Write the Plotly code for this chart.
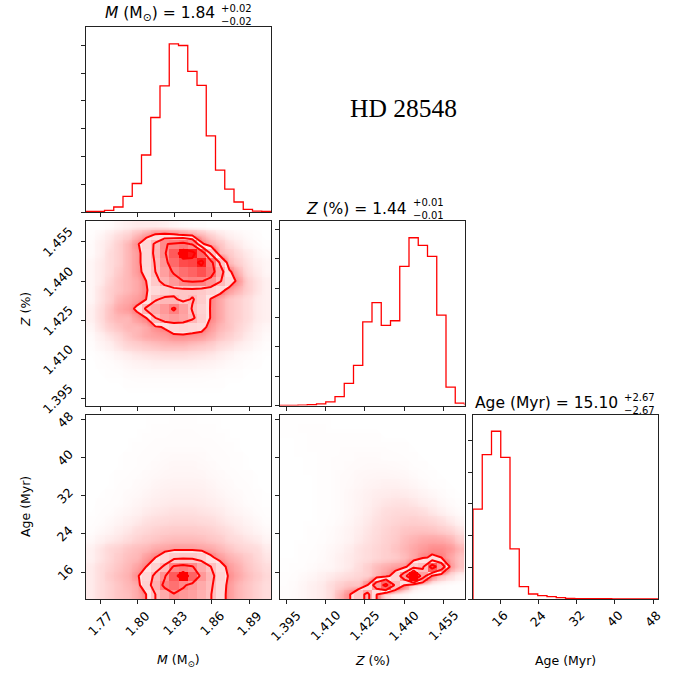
import plotly.graph_objects as go

# ---------------- parameters ----------------
mass_range = [1.7587, 1.9077]
z_range = [1.3924, 1.4630]
age_range = [10.36, 48.98]

mass_ticks = [1.77, 1.80, 1.83, 1.86, 1.89]
mass_tick_text = ["1.77", "1.80", "1.83", "1.86", "1.89"]
z_ticks = [1.395, 1.410, 1.425, 1.440, 1.455]
z_tick_text = ["1.395", "1.410", "1.425", "1.440", "1.455"]
age_ticks = [16, 24, 32, 40, 48]
age_tick_text = ["16", "24", "32", "40", "48"]

# marginal histograms, 20 bins each
mass_counts = [5, 5, 12, 36, 113, 205, 410, 680, 908, 1210,
               1198, 1012, 911, 547, 301, 164, 72, 19, 7, 5]
z_counts = [0, 0, 2, 5, 11, 25, 61, 150, 273, 570,
            701, 545, 577, 947, 1142, 1090, 1015, 615, 125, 16]
age_counts = [1133, 1819, 2114, 1785, 632, 156, 63, 42, 29, 17,
              8, 5, 4, 3, 3, 2, 2, 2, 1, 1]
hist_tick_step = {"mass": 200, "z": 200, "age": 400}

# joint densities on the 20x20 bin grid, rows listed from the top bin down
mass_z_density = [
    [0, 0, 0.3, 1, 1.5, 2, 2, 2, 1.5, 1, 0.5, 0.3, 0.2, 0, 0, 0, 0, 0, 0, 0],
    [0.3, 1, 2, 3, 4, 6, 8, 10.5, 11, 10.5, 9.5, 8, 6, 4, 2.5, 1.5, 1, 0.5, 0.2, 0],
    [0.5, 1.5, 2.5, 4, 6, 9, 14, 24, 39, 42, 45, 38, 11, 7, 5, 3, 2, 1, 0.5, 0.2],
    [0.5, 1.5, 3, 4, 6, 8, 13, 25, 38, 55, 85, 78, 50, 20, 6, 4.5, 3, 2, 1, 0.5],
    [1, 2, 3, 4, 6, 8, 13, 23, 35, 50, 60, 62, 76, 45, 20, 6, 4, 2.5, 1.5, 1],
    [1, 2, 3, 4.5, 6, 8, 12, 22, 32, 42, 48, 52, 58, 48, 28, 11, 6, 3, 2, 1],
    [1, 2, 3.5, 5, 6, 7, 10, 18, 27, 34, 40, 42, 41, 35, 23, 14, 8, 4, 2.5, 1.5],
    [1, 2.5, 4, 5, 6, 7, 9.5, 13, 16, 18, 19, 19, 18, 15, 12, 8, 6, 4, 2.5, 1.5],
    [1, 2.5, 4, 6, 7, 8, 10, 21, 24, 24, 19, 23, 17, 9.5, 7, 5, 4, 3, 2, 1.5],
    [1.5, 3, 5, 7, 8, 11, 24, 28, 34, 42, 32, 21, 15, 9.5, 7, 5, 4, 3, 2, 1.5],
    [1.5, 3, 5, 6, 6, 8, 10, 22, 30, 33, 30, 24, 16, 9.5, 7, 5, 4, 3, 2, 1.5],
    [1, 2.5, 4, 5, 6, 6, 7, 9, 10.5, 13, 14, 13, 12, 8, 6, 5, 3.5, 2.5, 1.5, 1],
    [0.5, 1.5, 2.5, 3.5, 5, 6, 7, 7.5, 8, 9, 9, 8.5, 8, 6.5, 5, 4, 3, 2, 1.2, 0.6],
    [0.3, 1, 1.5, 2.5, 3.5, 4, 4.5, 5, 5.5, 5.5, 5.5, 5, 4.5, 4, 3, 2.5, 1.8, 1.2, 0.8, 0.4],
    [0.1, 0.4, 0.8, 1.2, 1.8, 2.2, 2.5, 2.8, 3, 3, 3, 2.8, 2.5, 2.2, 1.8, 1.2, 0.8, 0.5, 0.3, 0.1],
    [0, 0.2, 0.4, 0.6, 1, 1.2, 1.4, 1.6, 1.6, 1.6, 1.6, 1.5, 1.4, 1.2, 1, 0.7, 0.5, 0.3, 0.2, 0],
    [0, 0.1, 0.2, 0.3, 0.5, 0.6, 0.7, 0.7, 0.7, 0.7, 0.7, 0.7, 0.6, 0.5, 0.4, 0.3, 0.2, 0.1, 0, 0],
    [0, 0, 0.1, 0.1, 0.2, 0.3, 0.3, 0.3, 0.3, 0.3, 0.3, 0.3, 0.3, 0.2, 0.2, 0.1, 0.1, 0, 0, 0],
    [0, 0, 0, 0, 0.1, 0.1, 0.1, 0.1, 0.1, 0.1, 0.1, 0.1, 0.1, 0.1, 0.1, 0, 0, 0, 0, 0],
    [0, 0, 0, 0, 0, 0, 0, 0, 0, 0, 0, 0, 0, 0, 0, 0, 0, 0, 0, 0],
]

mass_age_density = [
    [0, 0, 0, 0, 0, 0, 0.1, 0.1, 0.1, 0.2, 0.2, 0.2, 0.1, 0.1, 0.1, 0, 0, 0, 0, 0],
    [0, 0, 0, 0, 0, 0.1, 0.1, 0.2, 0.2, 0.3, 0.3, 0.3, 0.2, 0.2, 0.1, 0.1, 0, 0, 0, 0],
    [0, 0, 0, 0, 0.1, 0.1, 0.2, 0.3, 0.3, 0.4, 0.4, 0.4, 0.3, 0.3, 0.2, 0.1, 0.1, 0, 0, 0],
    [0, 0, 0, 0, 0.1, 0.2, 0.3, 0.4, 0.5, 0.5, 0.5, 0.5, 0.5, 0.4, 0.3, 0.2, 0.1, 0, 0, 0],
    [0, 0, 0, 0.1, 0.2, 0.3, 0.4, 0.5, 0.6, 0.7, 0.7, 0.7, 0.6, 0.5, 0.4, 0.3, 0.2, 0.1, 0, 0],
    [0, 0, 0, 0.1, 0.2, 0.3, 0.5, 0.6, 0.8, 0.9, 0.9, 0.9, 0.8, 0.6, 0.5, 0.3, 0.2, 0.1, 0, 0],
    [0, 0, 0.1, 0.2, 0.3, 0.5, 0.6, 0.8, 1, 1.1, 1.1, 1.1, 1, 0.8, 0.6, 0.5, 0.3, 0.2, 0.1, 0],
    [0, 0, 0.1, 0.3, 0.4, 0.6, 0.8, 1.1, 1.3, 1.4, 1.4, 1.4, 1.3, 1.1, 0.8, 0.6, 0.4, 0.3, 0.1, 0],
    [0, 0.1, 0.2, 0.4, 0.6, 0.8, 1.1, 1.4, 1.6, 1.8, 1.8, 1.8, 1.6, 1.4, 1.1, 0.8, 0.6, 0.4, 0.2, 0.1],
    [0, 0.2, 0.3, 0.5, 0.8, 1.1, 1.5, 1.8, 2, 2.2, 2.2, 2.2, 2, 1.8, 1.5, 1.1, 0.8, 0.5, 0.3, 0.1],
    [0.1, 0.3, 0.5, 0.8, 1.1, 1.5, 2, 2.3, 2.6, 2.8, 2.8, 2.8, 2.6, 2.3, 2, 1.5, 1.1, 0.8, 0.5, 0.2],
    [0.2, 0.5, 0.8, 1.2, 1.6, 2.2, 2.7, 3, 3.3, 3.5, 3.5, 3.5, 3.3, 3, 2.6, 2, 1.6, 1.2, 0.8, 0.4],
    [0.4, 0.8, 1.2, 1.8, 2.3, 3, 3.5, 4, 4.3, 4.5, 4.5, 4.5, 4.3, 4, 3.4, 2.8, 2.2, 1.6, 1.2, 0.7],
    [0.8, 1.5, 2, 2.5, 3.2, 4, 4.5, 5, 5.5, 5.8, 5.8, 5.8, 5.5, 5, 4.5, 3.5, 3, 2.5, 2, 1.2],
    [1.5, 2.5, 3.5, 4, 5, 5.5, 6, 7, 7.5, 8, 8, 8, 7.5, 7, 6, 5, 4, 3.5, 3, 2],
    [1.5, 2.5, 3.5, 4.5, 5.5, 6, 8, 10, 14, 18, 19, 19, 17, 11, 8, 6.5, 5.5, 4.5, 3.5, 2.5],
    [2, 3, 4, 5, 6, 7.5, 10, 16, 24, 42, 45, 41, 30, 22, 13, 8, 6.5, 5, 4, 3],
    [2, 3, 4.5, 5.5, 6.5, 9, 14, 25, 38, 58, 90, 55, 36, 26, 15, 9, 7, 5.5, 4.5, 3.5],
    [2, 3, 4, 5, 6, 7, 16, 28, 44, 50, 42, 36, 30, 24, 14, 8, 6, 5, 4, 3],
    [2, 3, 4, 5, 5.5, 7, 10, 22, 30, 39, 36, 33, 28, 22.5, 13, 8, 6, 5, 4, 3],
]

z_age_density = [
    [0.1, 0.1, 0.1, 0.1, 0.1, 0.1, 0, 0, 0, 0, 0, 0, 0, 0, 0, 0, 0, 0, 0, 0],
    [0.1, 0.1, 0.2, 0.2, 0.2, 0.1, 0.1, 0.1, 0.1, 0.1, 0.1, 0, 0, 0, 0, 0, 0, 0, 0, 0],
    [0.1, 0.1, 0.1, 0.2, 0.2, 0.2, 0.2, 0.2, 0.2, 0.2, 0.2, 0.1, 0.1, 0.1, 0, 0, 0, 0, 0, 0],
    [0, 0.1, 0.1, 0.2, 0.2, 0.2, 0.3, 0.3, 0.3, 0.3, 0.3, 0.3, 0.2, 0.2, 0.1, 0, 0, 0, 0, 0],
    [0, 0.1, 0.1, 0.1, 0.2, 0.3, 0.3, 0.4, 0.5, 0.5, 0.5, 0.4, 0.4, 0.3, 0.2, 0.1, 0, 0, 0, 0],
    [0, 0, 0.1, 0.1, 0.2, 0.3, 0.4, 0.5, 0.6, 0.7, 0.7, 0.7, 0.6, 0.5, 0.3, 0.2, 0.1, 0, 0, 0],
    [0, 0, 0.1, 0.1, 0.2, 0.3, 0.5, 0.6, 0.8, 0.9, 1, 1, 0.9, 0.8, 0.6, 0.4, 0.2, 0.1, 0, 0],
    [0, 0, 0, 0.1, 0.2, 0.3, 0.5, 0.7, 0.9, 1.1, 1.3, 1.4, 1.4, 1.2, 1, 0.7, 0.4, 0.2, 0.1, 0],
    [0, 0, 0, 0.1, 0.2, 0.3, 0.5, 0.8, 1.1, 1.4, 1.7, 1.9, 2, 1.9, 1.6, 1.2, 0.8, 0.5, 0.2, 0.1],
    [0, 0, 0, 0.1, 0.2, 0.3, 0.5, 0.8, 1.2, 1.6, 2, 2.4, 2.6, 2.6, 2.3, 1.9, 1.4, 0.9, 0.5, 0.2],
    [0, 0, 0, 0.1, 0.2, 0.3, 0.5, 0.8, 1.3, 1.8, 2.4, 2.9, 3.2, 3.3, 3.2, 2.8, 2.2, 1.6, 1, 0.5],
    [0, 0, 0.1, 0.1, 0.2, 0.4, 0.6, 1, 1.5, 2.1, 2.7, 3.2, 3.6, 3.9, 4, 3.8, 3.4, 2.8, 2, 1.2],
    [0, 0, 0.1, 0.2, 0.3, 0.5, 0.8, 1.2, 1.8, 2.4, 3, 3.6, 4.2, 4.8, 5, 5, 4.8, 4.2, 3.5, 2.4],
    [0, 0.1, 0.1, 0.2, 0.4, 0.6, 0.9, 1.3, 2, 2.6, 3.2, 3.8, 4.5, 5.5, 6.2, 6.8, 7, 6.8, 6, 4],
    [0, 0.1, 0.2, 0.3, 0.5, 0.8, 1.2, 1.8, 2.5, 3, 3.5, 4, 5, 6, 7, 8, 9, 9, 8, 6],
    [0.1, 0.1, 0.2, 0.4, 0.6, 1, 1.5, 2, 2.5, 3, 3.5, 4, 4.5, 5.5, 7, 9.5, 10.5, 10, 7, 5],
    [0.1, 0.2, 0.3, 0.5, 0.8, 1, 1.5, 2, 3, 4, 5.5, 6.5, 7.5, 8, 16, 20, 48, 30, 8, 5],
    [0.2, 0.4, 0.7, 1, 1.5, 2, 2.5, 3, 3.5, 4, 6, 8, 13, 30, 75, 28, 9, 5, 3, 1.5],
    [0.3, 0.5, 1, 1.5, 2, 3, 4, 5, 5, 10, 30, 45, 20, 10, 3, 1.5, 0.8, 0.5, 0.3, 0.2],
    [0.3, 0.6, 1, 1.5, 2, 3, 6, 9, 16, 25, 10, 3, 1.5, 0.8, 0.4, 0.2, 0.2, 0.2, 0.2, 0.2],
]

# density thresholds of the four credible-region contours
contour_levels = [10, 22, 40, 70]

RED = "#ff0000"
SPINE = "#222222"
FONT = "DejaVu Sans"
W, H = 681, 675

# panel boxes in pixels: columns (left, right), rows (top, bottom)
cols = [(86, 271), (279.5, 464.5), (473, 658)]
rows = [(27, 212), (221, 405.5), (414.5, 599)]


def xdom(c):
    return [cols[c][0] / W, cols[c][1] / W]


def ydom(r):
    return [1 - rows[r][1] / H, 1 - rows[r][0] / H]


def edges(rng, n):
    step = (rng[1] - rng[0]) / n
    return [rng[0] + k * step for k in range(n + 1)]


def centers(rng, n):
    e = edges(rng, n)
    return [(e[k] + e[k + 1]) / 2 for k in range(n)]


def step_trace(rng, counts, xa, ya):
    e = edges(rng, len(counts))
    xs = [e[0]] + e + [e[-1]]
    ys = [0] + list(counts) + [counts[-1], 0]
    return go.Scatter(x=xs, y=ys, mode="lines", line=dict(color=RED, width=1.3, shape="hv"),
                      xaxis=xa, yaxis=ya, hoverinfo="skip", showlegend=False)


def pad_grid(grid, xc, yc):
    """Extend the grid by one copied edge bin and one floor bin on each side."""
    ny, nx = len(grid), len(grid[0])
    lo = min(min(r) for r in grid)
    g = [[lo] * (nx + 4) for _ in range(ny + 4)]
    for j in range(ny):
        for i in range(nx):
            g[j + 2][i + 2] = grid[j][i]
        g[j + 2][1] = grid[j][0]
        g[j + 2][nx + 2] = grid[j][-1]
    for i in range(nx):
        g[1][i + 2] = grid[0][i]
        g[ny + 2][i + 2] = grid[-1][i]
    g[1][1], g[1][nx + 2] = grid[0][0], grid[0][-1]
    g[ny + 2][1], g[ny + 2][nx + 2] = grid[-1][0], grid[-1][-1]
    dx, dy = xc[1] - xc[0], yc[1] - yc[0]
    x2 = [xc[0] - 2 * dx, xc[0] - dx] + list(xc) + [xc[-1] + dx, xc[-1] + 2 * dx]
    y2 = [yc[0] - 2 * dy, yc[0] - dy] + list(yc) + [yc[-1] + dy, yc[-1] + 2 * dy]
    return g, x2, y2


# faint cloud of samples, densest just outside the outer contour
haze_scale = [
    [0.0, "rgba(255,0,0,0)"],
    [0.05, "rgba(255,0,0,0.01)"],
    [0.1, "rgba(255,0,0,0.025)"],
    [0.2, "rgba(255,0,0,0.055)"],
    [0.3, "rgba(255,0,0,0.10)"],
    [0.5, "rgba(255,0,0,0.18)"],
    [0.7, "rgba(255,0,0,0.28)"],
    [1.0, "rgba(255,0,0,0.42)"],
]
block_scale = [[0.0, "rgba(255,0,0,0)"], [1.0, "rgba(255,0,0,1)"]]
# transparent below the outer level, opaque white above it
blank_scale = [[0.0, "rgba(255,255,255,0)"], [0.5, "rgba(255,255,255,0)"],
               [0.5, "rgb(255,255,255)"], [1.0, "rgb(255,255,255)"]]


def joint_traces(density_top_down, xr, yr, xa, ya, ya_over):
    grid = density_top_down[::-1]
    n = len(grid)
    xc, yc = centers(xr, n), centers(yr, n)
    g2, x2, y2 = pad_grid(grid, xc, yc)
    peak = max(max(r) for r in grid)
    lo = contour_levels[0]
    out = []
    # sample cloud
    out.append(go.Heatmap(x=xc, y=yc, z=grid, zmin=0, zmax=lo, zsmooth="best",
                          colorscale=haze_scale, showscale=False, hoverinfo="skip",
                          xaxis=xa, yaxis=ya))
    # blank the interior of the outermost contour
    out.append(go.Contour(x=x2, y=y2, z=g2, showscale=False, hoverinfo="skip",
                          autocontour=False,
                          contours=dict(start=lo, end=lo, size=2, coloring="fill"),
                          zmin=lo - 1, zmax=lo + 1, colorscale=blank_scale,
                          line=dict(width=0), xaxis=xa, yaxis=ya))
    # binned density blocks
    out.append(go.Heatmap(x=xc, y=yc, z=grid, zmin=0, zmax=peak, zsmooth=False,
                          colorscale=block_scale, showscale=False, hoverinfo="skip",
                          xaxis=xa, yaxis=ya_over))
    # contour lines
    for lv in contour_levels:
        out.append(go.Contour(x=x2, y=y2, z=g2, showscale=False, hoverinfo="skip",
                              autocontour=False,
                              contours=dict(start=lv, end=lv, size=1, coloring="none"),
                              line=dict(color=RED, width=2.0, smoothing=0),
                              xaxis=xa, yaxis=ya_over))
    return out


fig = go.Figure()

# diagonal histograms
fig.add_trace(step_trace(mass_range, mass_counts, "x", "y"))
fig.add_trace(step_trace(z_range, z_counts, "x2", "y2"))
fig.add_trace(step_trace(age_range, age_counts, "x3", "y3"))

# joint panels
for t in joint_traces(mass_z_density, mass_range, z_range, "x4", "y4", "y7"):
    fig.add_trace(t)
for t in joint_traces(mass_age_density, mass_range, age_range, "x5", "y5", "y8"):
    fig.add_trace(t)
for t in joint_traces(z_age_density, z_range, age_range, "x6", "y6", "y9"):
    fig.add_trace(t)

base_axis = dict(showline=True, linecolor=SPINE, linewidth=1, mirror=True,
                 ticks="outside", ticklen=4, tickwidth=1, tickcolor=SPINE,
                 showgrid=False, zeroline=False, showticklabels=False, fixedrange=True)


def hist_ticks(counts, step):
    top = 1.1 * max(counts)
    return [step * k for k in range(int(top // step) + 1)], [0, top]


layout = dict(width=W, height=H, margin=dict(l=0, r=0, t=0, b=0),
              paper_bgcolor="white", plot_bgcolor="white", showlegend=False)

mt, mr = hist_ticks(mass_counts, hist_tick_step["mass"])
zt, zr = hist_ticks(z_counts, hist_tick_step["z"])
at, ar = hist_ticks(age_counts, hist_tick_step["age"])

layout["xaxis"] = dict(base_axis, domain=xdom(0), range=mass_range, tickvals=mass_ticks, anchor="y")
layout["yaxis"] = dict(base_axis, domain=ydom(0), range=mr, tickvals=mt, anchor="x")
layout["xaxis2"] = dict(base_axis, domain=xdom(1), range=z_range, tickvals=z_ticks, anchor="y2")
layout["yaxis2"] = dict(base_axis, domain=ydom(1), range=zr, tickvals=zt, anchor="x2")
layout["xaxis3"] = dict(base_axis, domain=xdom(2), range=age_range, tickvals=age_ticks, anchor="y3")
layout["yaxis3"] = dict(base_axis, domain=ydom(2), range=ar, tickvals=at, anchor="x3")
layout["xaxis4"] = dict(base_axis, domain=xdom(0), range=mass_range, tickvals=mass_ticks, anchor="y4")
layout["yaxis4"] = dict(base_axis, domain=ydom(1), range=z_range, tickvals=z_ticks, anchor="x4")
layout["xaxis5"] = dict(base_axis, domain=xdom(0), range=mass_range, tickvals=mass_ticks, anchor="y5")
layout["yaxis5"] = dict(base_axis, domain=ydom(2), range=age_range, tickvals=age_ticks, anchor="x5")
layout["xaxis6"] = dict(base_axis, domain=xdom(1), range=z_range, tickvals=z_ticks, anchor="y6")
layout["yaxis6"] = dict(base_axis, domain=ydom(2), range=age_range, tickvals=age_ticks, anchor="x6")
layout["yaxis7"] = dict(overlaying="y4", anchor="x4", range=z_range, visible=False, fixedrange=True)
layout["yaxis8"] = dict(overlaying="y5", anchor="x5", range=age_range, visible=False, fixedrange=True)
layout["yaxis9"] = dict(overlaying="y6", anchor="x6", range=age_range, visible=False, fixedrange=True)

fig.update_layout(**layout)

ann = []
tick_font = dict(family=FONT, size=12.5, color="black")

# rotated tick labels under the bottom row
bottom = 1 - rows[2][1] / H
for xa, vals, texts in [("x5", mass_ticks, mass_tick_text),
                        ("x6", z_ticks, z_tick_text),
                        ("x3", age_ticks, age_tick_text)]:
    for v, s in zip(vals, texts):
        ann.append(dict(x=v, xref=xa, y=bottom, yref="paper", text=s, textangle=-45,
                        xanchor="center", yanchor="top", yshift=-6, showarrow=False,
                        font=tick_font))

# rotated tick labels left of the first column
left = cols[0][0] / W
for ya, vals, texts in [("y4", z_ticks, z_tick_text), ("y5", age_ticks, age_tick_text)]:
    for v, s in zip(vals, texts):
        ann.append(dict(x=left, xref="paper", y=v, yref=ya, text=s, textangle=-45,
                        xanchor="right", yanchor="middle", xshift=-7, showarrow=False,
                        font=tick_font))

label_font = dict(family=FONT, size=12.5, color="black")
mass_label = "<i>M</i> (M<sub>⊙</sub>)"
z_label = "<i>Z</i> (%)"
age_label = "Age (Myr)"


def px(x, y):
    return x / W, 1 - y / H


for text, (x, y) in [(mass_label, (178.5, 660)), (z_label, (372, 660)), (age_label, (565.5, 660))]:
    xp, yp = px(x, y)
    ann.append(dict(x=xp, y=yp, xref="paper", yref="paper", text=text, showarrow=False,
                    xanchor="center", yanchor="middle", font=label_font))
for text, (x, y) in [(z_label, (25, 310)), (age_label, (26, 507))]:
    xp, yp = px(x, y)
    ann.append(dict(x=xp, y=yp, xref="paper", yref="paper", text=text, showarrow=False,
                    textangle=-90, xanchor="center", yanchor="middle", font=label_font))

# panel titles: median followed by a stacked +/- error block
title_font = dict(family=FONT, size=15.5, color="black")
err_font = dict(family=FONT, size=10, color="black")
titles = [
    (mass_label + " = 1.84", "+0.02", "−0.02", 215.5, 14.5),
    (z_label + " = 1.44", "+0.01", "−0.01", 407.5, 208.8),
    (age_label + " = 15.10", "+2.67", "−2.67", 618.5, 403.3),
]
for main, up, dn, xb, ym in titles:
    xp, yp = px(xb, ym)
    ann.append(dict(x=xp, y=yp, xref="paper", yref="paper", text=main, showarrow=False,
                    xanchor="right", yanchor="middle", font=title_font, borderpad=0))
    xp, yp = px(xb + 4, ym + 0.5)
    ann.append(dict(x=xp, y=yp, xref="paper", yref="paper", text=up + "<br>" + dn,
                    showarrow=False, align="left", xanchor="left", yanchor="middle",
                    font=err_font, borderpad=0))

# star name
xp, yp = px(403, 108)
ann.append(dict(x=xp, y=yp, xref="paper", yref="paper", text="HD 28548", showarrow=False,
                xanchor="center", yanchor="middle",
                font=dict(family="Liberation Serif", size=25.5, color="black")))

fig.update_layout(annotations=ann)
fig.write_html("out.html")
